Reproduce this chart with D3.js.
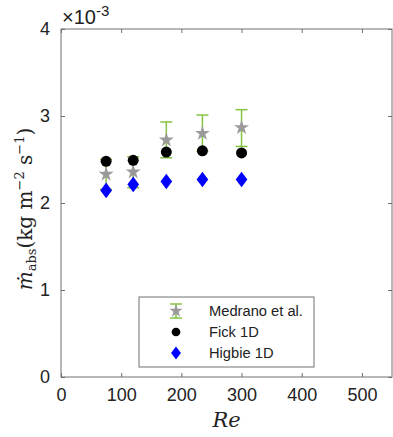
<!DOCTYPE html>
<html><head><meta charset="utf-8">
<script src="https://cdn.jsdelivr.net/npm/d3@7"></script>
<style>body{margin:0;background:#fff}svg{display:block}</style>
</head><body>
<svg id="c" width="393" height="437"></svg>
<script>
const re = [75, 120, 175, 235, 300];
const medrano = [2.33, 2.356, 2.724, 2.80, 2.866];
const medranoLow = [2.157, 2.176, 2.52, 2.594, 2.65];
const medranoHigh = [2.50, 2.53, 2.931, 3.011, 3.073];
const fick = [2.479, 2.49, 2.586, 2.60, 2.575];
const higbie = [2.145, 2.214, 2.248, 2.27, 2.27];
const xTicks = [0, 100, 200, 300, 400, 500];
const yTicks = [0, 1, 2, 3, 4];
const legendLabels = ["Medrano et al.", "Fick 1D", "Higbie 1D"];

const svg = d3.select("#c");
const L = 61, R = 392, T = 29, B = 377;
const x = d3.scaleLinear().domain([0, 550]).range([L, R]);
const y = d3.scaleLinear().domain([0, 4]).range([B, T]);
const axisCol = "#707070";
const font = "Liberation Sans, Arial, Helvetica, sans-serif";

svg.append("rect").attr("x", L).attr("y", T).attr("width", R - L).attr("height", B - T)
  .attr("fill", "none").attr("stroke", axisCol).attr("stroke-width", 1);

const ax = svg.append("g").attr("transform", `translate(0,${B})`)
  .call(d3.axisBottom(x).tickValues(xTicks).tickSize(-4).tickPadding(8).tickFormat(d3.format("d")));
const axTop = svg.append("g").attr("transform", `translate(0,${T})`)
  .call(d3.axisTop(x).tickValues(xTicks).tickSize(-4).tickFormat(""));
const ay = svg.append("g").attr("transform", `translate(${L},0)`)
  .call(d3.axisLeft(y).tickValues(yTicks).tickSize(-4).tickPadding(11).tickFormat(d3.format("d")));
const ayR = svg.append("g").attr("transform", `translate(${R},0)`)
  .call(d3.axisRight(y).tickValues(yTicks).tickSize(-4).tickFormat(""));
[ax, axTop, ay, ayR].forEach(g => {
  g.select(".domain").remove();
  g.selectAll(".tick line").attr("stroke", axisCol);
  g.selectAll(".tick text").attr("fill", "#222").attr("font-family", font).attr("font-size", 18);
});
ax.selectAll(".tick text").attr("dy", "0.9em");

const ex = svg.append("text").attr("x", 62).attr("y", 24).attr("fill", "#222")
  .attr("font-family", font).attr("font-size", 20);
ex.append("tspan").text("×10");
ex.append("tspan").attr("dy", -8).attr("font-size", 15).text("-3");

svg.append("text").attr("x", (L + R) / 2).attr("y", 427).attr("text-anchor", "middle")
  .attr("font-family", "DejaVu Serif, serif").attr("font-style", "italic").attr("font-size", 21).attr("fill", "#222").text("Re");

const yl = svg.append("text").attr("transform", `translate(32,209) rotate(-90)`).attr("text-anchor", "middle")
  .attr("font-family", "DejaVu Serif, serif").attr("font-size", 20).attr("fill", "#222");
yl.append("tspan").attr("font-style", "italic").text("ṁ");
yl.append("tspan").attr("dy", 4).attr("font-size", 13).text("abs");
yl.append("tspan").attr("dy", -4).text("(kg m");
yl.append("tspan").attr("dy", -8).attr("font-size", 13).text("−2");
yl.append("tspan").attr("dy", 8).text(" s");
yl.append("tspan").attr("dy", -8).attr("font-size", 13).text("−1");
yl.append("tspan").attr("dy", 8).text(")");

const errCol = "#84c441", starCol = "#9a9a9a", blue = "#0000ff";
const star = d3.symbol().type(d3.symbolStar).size(70);
const circ = d3.symbol().type(d3.symbolCircle).size(95);
const diamond = d3.symbol().type(d3.symbolDiamond).size(70);

function errbar(g, cx, lo, hi) {
  g.append("line").attr("x1", cx).attr("x2", cx).attr("y1", lo).attr("y2", hi).attr("stroke", errCol).attr("stroke-width", 1.5);
  [lo, hi].forEach(v => g.append("line").attr("x1", cx - 6).attr("x2", cx + 6).attr("y1", v).attr("y2", v).attr("stroke", errCol).attr("stroke-width", 1.5));
}

const pts = svg.append("g");
re.forEach((r, i) => {
  errbar(pts, x(r), y(medranoLow[i]), y(medranoHigh[i]));
  pts.append("path").attr("d", star).attr("transform", `translate(${x(r)},${y(medrano[i])})`).attr("fill", starCol);
});
re.forEach((r, i) => pts.append("path").attr("d", circ).attr("transform", `translate(${x(r)},${y(fick[i])})`).attr("fill", "#000"));
re.forEach((r, i) => pts.append("path").attr("d", diamond).attr("transform", `translate(${x(r)},${y(higbie[i])}) scale(1.3,1)`).attr("fill", blue));

const lg = svg.append("g");
lg.append("rect").attr("x", 139).attr("y", 297).attr("width", 175).attr("height", 70)
  .attr("fill", "#fff").attr("stroke", axisCol).attr("stroke-width", 1);
const rowsY = [311, 332, 353];
const mx = 176;
errbar(lg, mx, rowsY[0] + 7, rowsY[0] - 7);
lg.append("path").attr("d", d3.symbol().type(d3.symbolStar).size(55)).attr("transform", `translate(${mx},${rowsY[0]})`).attr("fill", starCol);
lg.append("path").attr("d", d3.symbol().type(d3.symbolCircle).size(60)).attr("transform", `translate(${mx},${rowsY[1]})`).attr("fill", "#000");
lg.append("path").attr("d", d3.symbol().type(d3.symbolDiamond).size(50)).attr("transform", `translate(${mx},${rowsY[2]}) scale(1.3,1)`).attr("fill", blue);
legendLabels.forEach((t, i) => lg.append("text").attr("x", 209).attr("y", rowsY[i]).attr("dy", "0.35em")
  .attr("font-family", font).attr("font-size", 14.7).attr("fill", "#222").text(t));
</script>
</body></html>
